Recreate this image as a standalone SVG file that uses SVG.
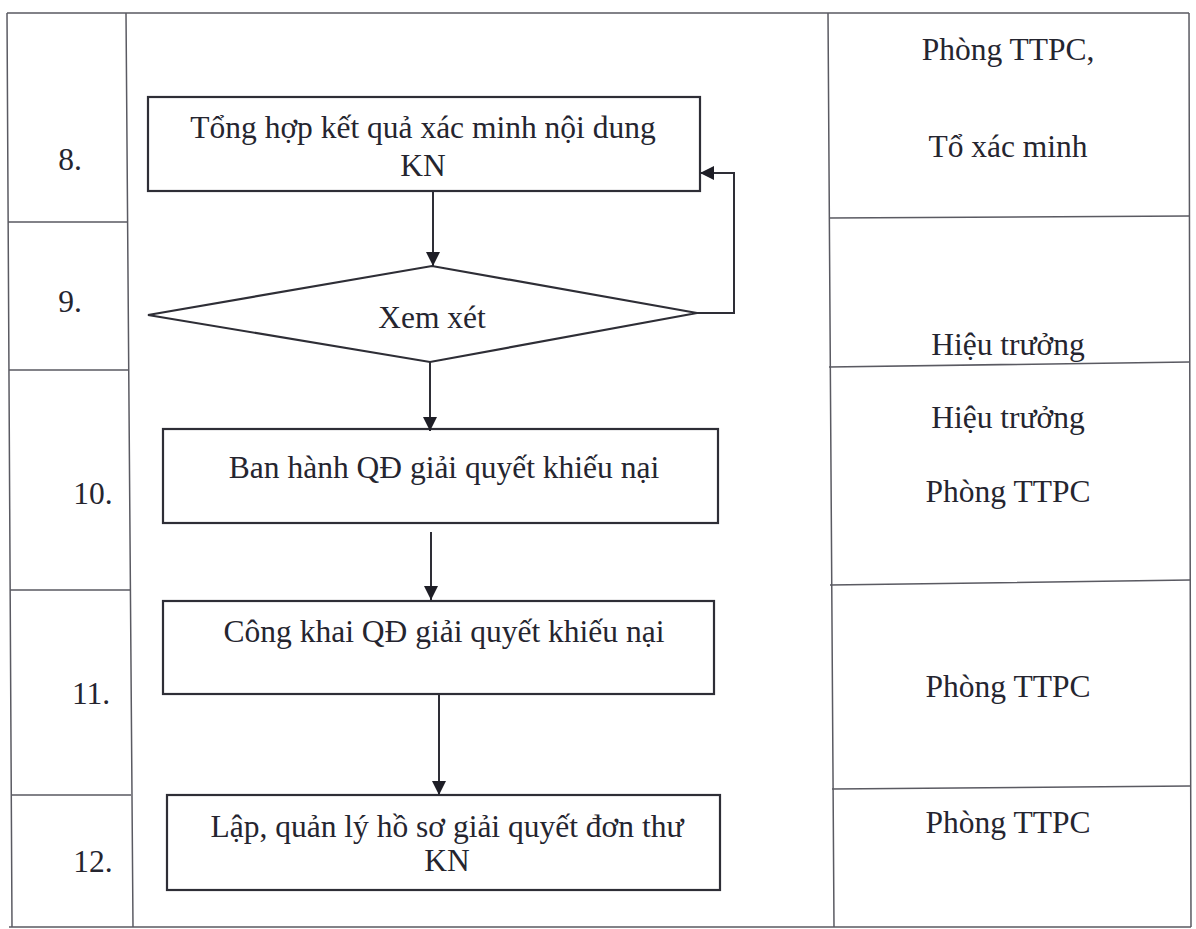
<svg xmlns="http://www.w3.org/2000/svg" width="1196" height="929" viewBox="0 0 1196 929">
<style>
.t{font-family:"Liberation Serif","Times New Roman",serif;font-size:31.5px;fill:#25252f;text-anchor:middle}
.grid{stroke:#5a5a62;stroke-width:1.5;fill:none}
.shape{stroke:#2e2e36;stroke-width:2.2;fill:#fff}
.conn{stroke:#2e2e36;stroke-width:2;fill:none}
</style>
<defs>
<marker id="ah" markerUnits="userSpaceOnUse" markerWidth="14" markerHeight="16" refX="14" refY="8" orient="auto">
<path d="M0,1 L14,8 L0,15 Z" fill="#1e1e26"/>
</marker>
</defs>
<rect width="1196" height="929" fill="#fff"/>
<g id="table">
<path class="grid" d="M7,13 L1189,13 M9,927 L1191,927 M7,13 L12,927 M1189,13 L1191,927 M126,13 L133,927 M828,13 L834,927"/>
<path class="grid" d="M8,222 L127,222 M9,370 L128,370 M10,590 L130,590 M11,795 L131,795"/>
<path class="grid" d="M829,218 L1189,216 M829,367 L1189,362 M830,585 L1190,580 M832,789 L1190,786"/>
</g>
<g id="rownums">
<text class="t" x="70" y="170">8.</text>
<text class="t" x="70" y="312">9.</text>
<text class="t" x="93" y="504">10.</text>
<text class="t" x="91" y="704">11.</text>
<text class="t" x="93" y="872">12.</text>
</g>
<g id="roles">
<text class="t" x="1008" y="60">Phòng TTPC,</text>
<text class="t" x="1008" y="157">Tổ xác minh</text>
<text class="t" x="1008" y="355">Hiệu trưởng</text>
<text class="t" x="1008" y="428">Hiệu trưởng</text>
<text class="t" x="1008" y="502">Phòng TTPC</text>
<text class="t" x="1008" y="697">Phòng TTPC</text>
<text class="t" x="1008" y="833">Phòng TTPC</text>
</g>
<g id="node8">
<rect class="shape" x="148" y="97" width="552" height="94"/>
<text class="t" x="423" y="138">Tổng hợp kết quả xác minh nội dung</text>
<text class="t" x="423" y="176">KN</text>
</g>
<g id="node9">
<polygon class="shape" points="148,315 432,266 697,313 430,362"/>
<text class="t" x="432" y="328">Xem xét</text>
</g>
<g id="node10">
<rect class="shape" x="163" y="429" width="555" height="94"/>
<text class="t" x="444" y="478">Ban hành QĐ giải quyết khiếu nại</text>
</g>
<g id="node11">
<rect class="shape" x="163" y="601" width="551" height="93"/>
<text class="t" x="444" y="642">Công khai QĐ giải quyết khiếu nại</text>
</g>
<g id="node12">
<rect class="shape" x="167" y="795" width="553" height="95"/>
<text class="t" x="447" y="837">Lập, quản lý hồ sơ giải quyết đơn thư</text>
<text class="t" x="447" y="871">KN</text>
</g>
<g id="connectors">
<path class="conn" d="M433,192 L433,266" marker-end="url(#ah)"/>
<path class="conn" d="M697,313 L734,313 L734,173 L700,173" marker-end="url(#ah)"/>
<path class="conn" d="M430,362 L430,431" marker-end="url(#ah)"/>
<path class="conn" d="M431,532 L431,600" marker-end="url(#ah)"/>
<path class="conn" d="M439,694 L439,795" marker-end="url(#ah)"/>
</g>
</svg>
